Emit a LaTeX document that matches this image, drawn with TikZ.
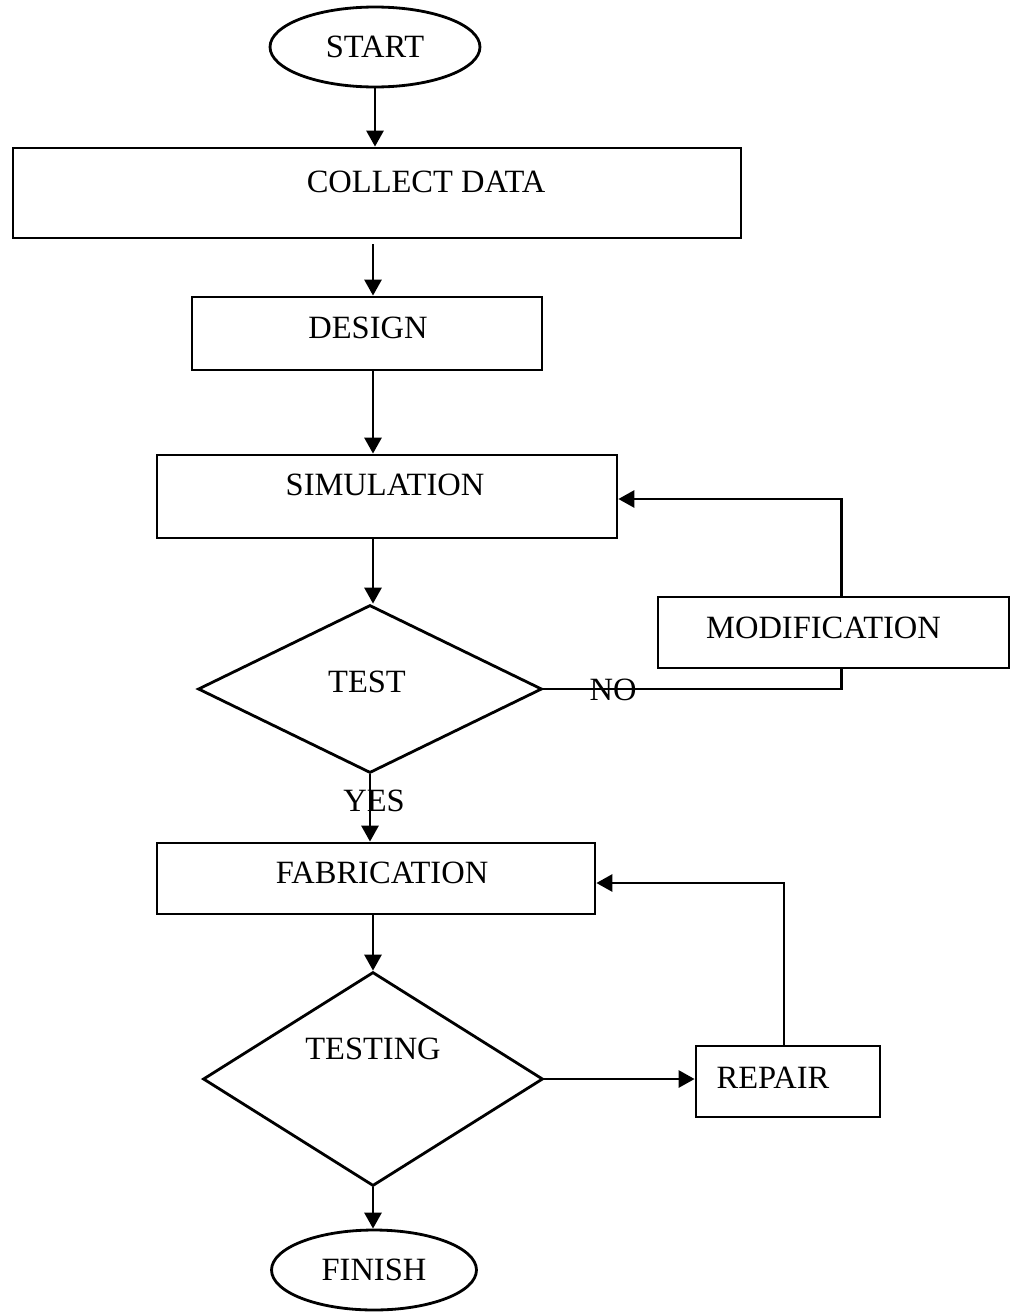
\documentclass[tikz,border=0pt]{standalone}
\usepackage{fontspec}
\setmainfont{Liberation Serif}
\usetikzlibrary{shapes.geometric,arrows.meta}
\begin{document}
\begin{tikzpicture}[x=0.02cm,y=-0.02cm,
  line width=1.6pt,
  every node/.style={font=\fontsize{18.5}{21}\selectfont},
  box/.style={draw, rectangle, inner sep=0pt},
  term/.style={draw, ellipse, inner sep=0pt},
  decide/.style={draw, diamond, inner sep=0pt},
  flow/.style={-{Triangle[length=0.32cm,width=0.34cm]}}
]
\useasboundingbox (0,0) rectangle (1017,1312);

% main vertical axis of the flow
\coordinate (axis) at (373,0);

% terminals, process boxes and decisions
\node[term, minimum width=4.2cm, minimum height=1.6cm] (start) at (375,47) {START};
\node[box, minimum width=14.56cm, minimum height=1.8cm,
      label={[xshift=0.98cm,yshift=0.22cm]center:COLLECT DATA}] (collect) at (377,193) {};
\node[box, minimum width=7.0cm, minimum height=1.46cm,
      label={[xshift=0.02cm,yshift=0.11cm]center:DESIGN}] (design) at (367,333.5) {};
\node[box, minimum width=9.2cm, minimum height=1.66cm,
      label={[xshift=-0.04cm,yshift=0.23cm]center:SIMULATION}] (sim) at (387,496.5) {};
\node[decide, minimum width=6.88cm, minimum height=3.36cm,
      label={[xshift=-0.06cm,yshift=0.14cm]center:TEST}] (test) at (370,689) {};
\node[box, minimum width=7.02cm, minimum height=1.42cm,
      label={[xshift=-0.2cm,yshift=0.1cm]center:MODIFICATION}] (mod) at (833.5,632.5) {};
\node[box, minimum width=8.76cm, minimum height=1.42cm,
      label={[xshift=0.12cm,yshift=0.11cm]center:FABRICATION}] (fab) at (376,878.5) {};
\node[decide, minimum width=6.8cm, minimum height=4.28cm,
      label={[yshift=0.6cm]center:TESTING}] (testing) at (373,1079) {};
\node[box, minimum width=3.68cm, minimum height=1.42cm,
      label={[xshift=-0.3cm,yshift=0.07cm]center:REPAIR}] (repair) at (788,1081.5) {};
\node[term, minimum width=4.1cm, minimum height=1.6cm] (finish) at (374,1270) {FINISH};

% main flow
\draw[flow] (start.south) -- (start.south |- collect.north);
\draw[flow] ([yshift=-0.1cm]axis |- collect.south) -- (axis |- design.north);
\draw[flow] (axis |- design.south) -- (axis |- sim.north);
\draw[flow] (axis |- sim.south) -- (axis |- test.north);
\draw[flow] (test.south) -- (test.south |- fab.north)
  node[pos=0.39, xshift=0.08cm] (yes) {YES};
\draw[flow] (axis |- fab.south) -- (testing.north);
\draw[flow] (testing.south) -- (testing.south |- finish.north);

% modification loop
\draw (test.east) -| ([xshift=0.16cm]mod.south);
\node (no) at (613,690) {NO};
\draw[flow] ([xshift=0.16cm]mod.north) |- ([yshift=-0.05cm]sim.east);

% repair loop
\draw[flow] (testing.east) -- (testing.east -| repair.west);
\draw[flow] ([xshift=-0.08cm]repair.north) |- ([yshift=-0.09cm]fab.east);
\end{tikzpicture}
\end{document}
